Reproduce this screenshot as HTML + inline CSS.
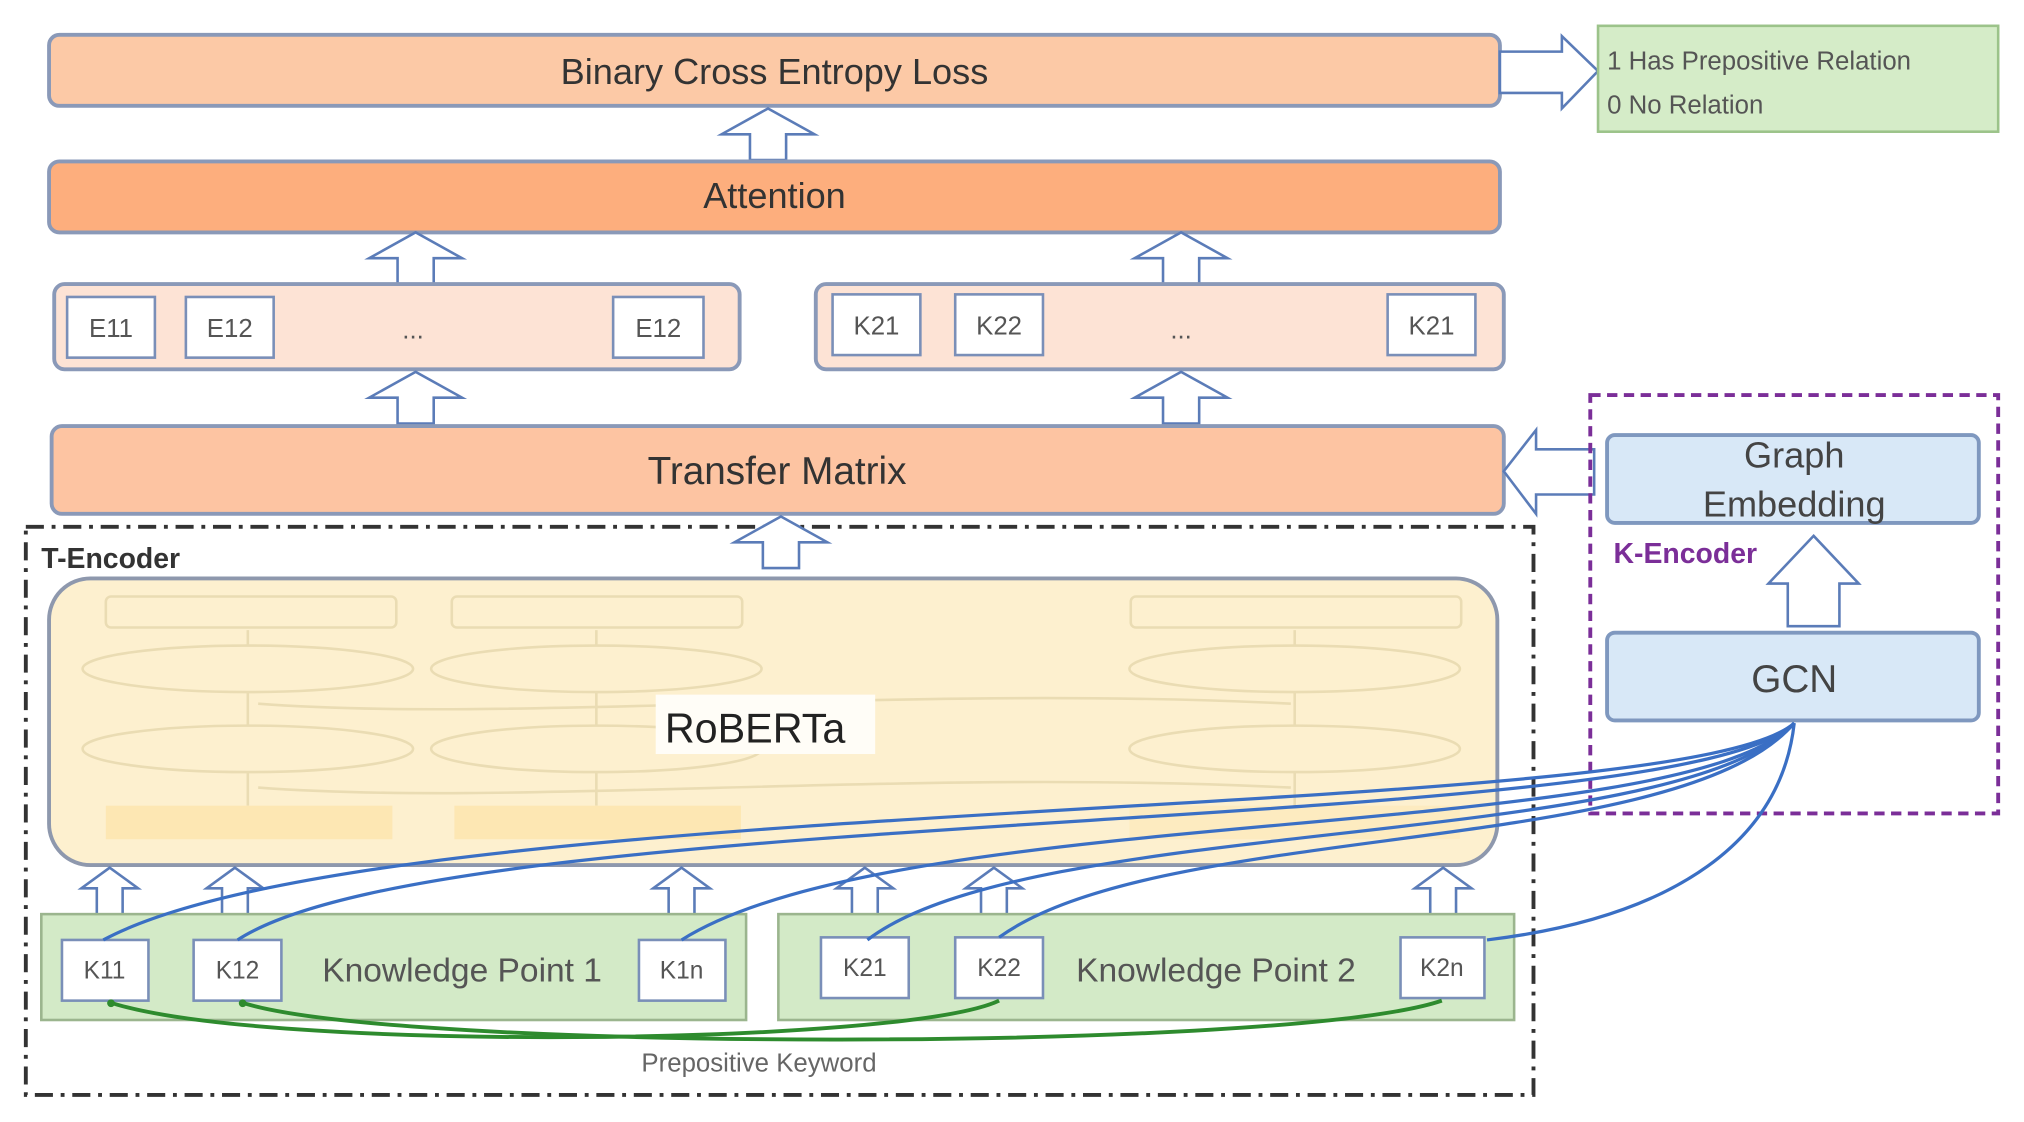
<!DOCTYPE html>
<html><head><meta charset="utf-8"><style>html,body{margin:0;padding:0;background:#fff}svg{display:block}</style></head>
<body>
<svg width="2024" height="1122" viewBox="0 0 1568 869" preserveAspectRatio="none" xmlns="http://www.w3.org/2000/svg" font-family="Liberation Sans, sans-serif">
<defs>
<g id="up"><path d="M0,0 L36,20 L14,20 L14,40 L-14,40 L-14,20 L-36,20 Z" fill="#fff" stroke="#5b7cb8" stroke-width="2"/></g>
<g id="ups"><path d="M0,0 L22,16 L10,16 L10,38 L-10,38 L-10,16 L-22,16 Z" fill="#fff" stroke="#5b7cb8" stroke-width="2"/></g>
</defs>
<!-- BCE -->
<rect x="38" y="27" width="1124" height="55" rx="8" fill="#fcc9a6" stroke="#8a99b8" stroke-width="3"/>
<text x="600" y="65" font-size="28" text-anchor="middle" fill="#333">Binary Cross Entropy Loss</text>
<path d="M1162,40 L1210,40 L1210,28 L1238,55 L1210,84 L1210,72 L1162,72 Z" fill="#fff" stroke="#5b7cb8" stroke-width="2"/>
<rect x="1238" y="20" width="310" height="82" fill="#d5ecc8" stroke="#9cc38a" stroke-width="2"/>
<text x="1245" y="54" font-size="20" fill="#555">1 Has Prepositive Relation</text>
<text x="1245" y="88" font-size="20" fill="#555">0 No Relation</text>
<use href="#up" x="595" y="84"/>
<!-- Attention -->
<rect x="38" y="125" width="1124" height="55" rx="8" fill="#fdae7d" stroke="#8a99b8" stroke-width="3"/>
<text x="600" y="161" font-size="28" text-anchor="middle" fill="#333">Attention</text>
<use href="#up" x="322" y="180"/>
<use href="#up" x="915" y="180"/>
<!-- E rows -->
<rect x="42" y="220" width="531" height="66" rx="8" fill="#fde3d5" stroke="#8a99b8" stroke-width="3"/>
<rect x="632" y="220" width="533" height="66" rx="8" fill="#fde3d5" stroke="#8a99b8" stroke-width="3"/>
<g fill="#fff" stroke="#7a8fb8" stroke-width="2">
<rect x="52" y="230" width="68" height="47"/><rect x="144" y="230" width="68" height="47"/><rect x="475" y="230" width="70" height="47"/>
<rect x="645" y="228" width="68" height="47"/><rect x="740" y="228" width="68" height="47"/><rect x="1075" y="228" width="68" height="47"/>
</g>
<g font-size="20" fill="#555" text-anchor="middle">
<text x="86" y="261">E11</text><text x="178" y="261">E12</text><text x="510" y="261">E12</text><text x="320" y="262">...</text>
<text x="679" y="259">K21</text><text x="774" y="259">K22</text><text x="1109" y="259">K21</text><text x="915" y="262">...</text>
</g>
<use href="#up" x="322" y="288"/>
<use href="#up" x="915" y="288"/>
<!-- Transfer -->
<rect x="40" y="330" width="1125" height="68" rx="8" fill="#fdc4a2" stroke="#8a99b8" stroke-width="3"/>
<text x="602" y="375" font-size="30" text-anchor="middle" fill="#333">Transfer Matrix</text>
<path d="M1235,348 L1190,348 L1190,333 L1165,365 L1190,398 L1190,383 L1235,383 Z" fill="#fff" stroke="#5b7cb8" stroke-width="2"/>
<!-- T-Encoder -->
<rect x="20" y="408" width="1168" height="440" fill="none" stroke="#333" stroke-width="3" stroke-dasharray="14,6,3,6"/>
<text x="32" y="440" font-size="22" font-weight="bold" fill="#333">T-Encoder</text>
<use href="#up" x="605" y="400"/>
<rect x="38" y="448" width="1122" height="222" rx="32" fill="#fdf0cf" stroke="#8e98ad" stroke-width="3"/>
<g fill="none" stroke="#eadcb3" stroke-width="2">
<rect x="82" y="462" width="225" height="24" rx="4"/><rect x="350" y="462" width="225" height="24" rx="4"/><rect x="876" y="462" width="256" height="24" rx="4"/>
<ellipse cx="192" cy="518" rx="128" ry="18"/><ellipse cx="462" cy="518" rx="128" ry="18"/><ellipse cx="1003" cy="518" rx="128" ry="18"/>
<ellipse cx="192" cy="580" rx="128" ry="18"/><ellipse cx="462" cy="580" rx="128" ry="18"/><ellipse cx="1003" cy="580" rx="128" ry="18"/>
<path d="M192,500 V488 M462,500 V488 M1003,500 V488 M192,562 V536 M462,562 V536 M1003,562 V536 M192,624 V598 M462,624 V598 M1003,624 V598"/>
<path d="M200,545 C400,560 700,530 1000,545 M200,610 C400,625 700,595 1000,610"/>
</g>
<rect x="82" y="624" width="222" height="26" fill="#fde7b3"/><rect x="352" y="624" width="222" height="26" fill="#fde7b3"/><rect x="875" y="624" width="256" height="26" fill="#fdebc0"/>
<rect x="508" y="538" width="170" height="46" fill="#fffdf7"/>
<text x="585" y="575" font-size="32" text-anchor="middle" fill="#222">RoBERTa</text>
<!-- K up arrows -->
<use href="#ups" x="85" y="672"/><use href="#ups" x="182" y="672"/><use href="#ups" x="528" y="672"/>
<use href="#ups" x="670" y="672"/><use href="#ups" x="770" y="672"/><use href="#ups" x="1118" y="672"/>
<!-- Knowledge points -->
<rect x="32" y="708" width="546" height="82" fill="#d3eac7" stroke="#9bb58e" stroke-width="2"/>
<rect x="603" y="708" width="570" height="82" fill="#d3eac7" stroke="#9bb58e" stroke-width="2"/>
<g fill="#fff" stroke="#7a8fb8" stroke-width="2">
<rect x="48" y="728" width="67" height="47"/><rect x="150" y="728" width="68" height="47"/><rect x="495" y="728" width="67" height="47"/>
<rect x="636" y="726" width="68" height="47"/><rect x="740" y="726" width="68" height="47"/><rect x="1085" y="726" width="65" height="47"/>
</g>
<g font-size="19" fill="#555" text-anchor="middle">
<text x="81" y="758">K11</text><text x="184" y="758">K12</text><text x="528" y="758">K1n</text>
<text x="670" y="756">K21</text><text x="774" y="756">K22</text><text x="1117" y="756">K2n</text>
</g>
<text x="358" y="760" font-size="26" text-anchor="middle" fill="#555">Knowledge Point 1</text>
<text x="942" y="760" font-size="26" text-anchor="middle" fill="#555">Knowledge Point 2</text>
<!-- green curves -->
<g fill="none" stroke="#2e8b2e" stroke-width="3">
<path d="M774,775 C700,810 200,815 84,776"/>
<path d="M1117,775 C1000,815 300,815 186,776"/>
</g>
<circle cx="86" cy="777" r="3" fill="#2e8b2e"/><circle cx="188" cy="777" r="3" fill="#2e8b2e"/>
<text x="588" y="830" font-size="20" text-anchor="middle" fill="#666">Prepositive Keyword</text>
<!-- K-Encoder -->
<rect x="1232" y="306" width="316" height="324" fill="none" stroke="#7b2e98" stroke-width="3" stroke-dasharray="8,5"/>
<rect x="1245" y="337" width="288" height="68" rx="6" fill="#d8e8f7" stroke="#7f98bf" stroke-width="3"/>
<text x="1390" y="362" font-size="28" text-anchor="middle" fill="#444">Graph</text>
<text x="1390" y="400" font-size="28" text-anchor="middle" fill="#444">Embedding</text>
<text x="1250" y="436" font-size="22" font-weight="bold" fill="#7b2e98">K-Encoder</text>
<path d="M1405,415 L1440,452 L1425,452 L1425,485 L1385,485 L1385,452 L1370,452 Z" fill="#fff" stroke="#5b7cb8" stroke-width="2"/>
<rect x="1245" y="490" width="288" height="68" rx="6" fill="#d8e8f7" stroke="#7f98bf" stroke-width="3"/>
<text x="1390" y="536" font-size="30" text-anchor="middle" fill="#444">GCN</text>
<!-- blue curves -->
<g fill="none" stroke="#3a6fc4" stroke-width="2.5">
<path d="M1390,560 C1300,640 300,610 80,728"/>
<path d="M1390,560 C1300,650 350,620 184,728"/>
<path d="M1390,560 C1300,655 700,620 528,728"/>
<path d="M1390,560 C1300,660 800,630 672,728"/>
<path d="M1390,560 C1300,665 900,635 774,726"/>
<path d="M1390,560 C1380,650 1300,710 1152,728"/>
</g>
</svg>
</body></html>
